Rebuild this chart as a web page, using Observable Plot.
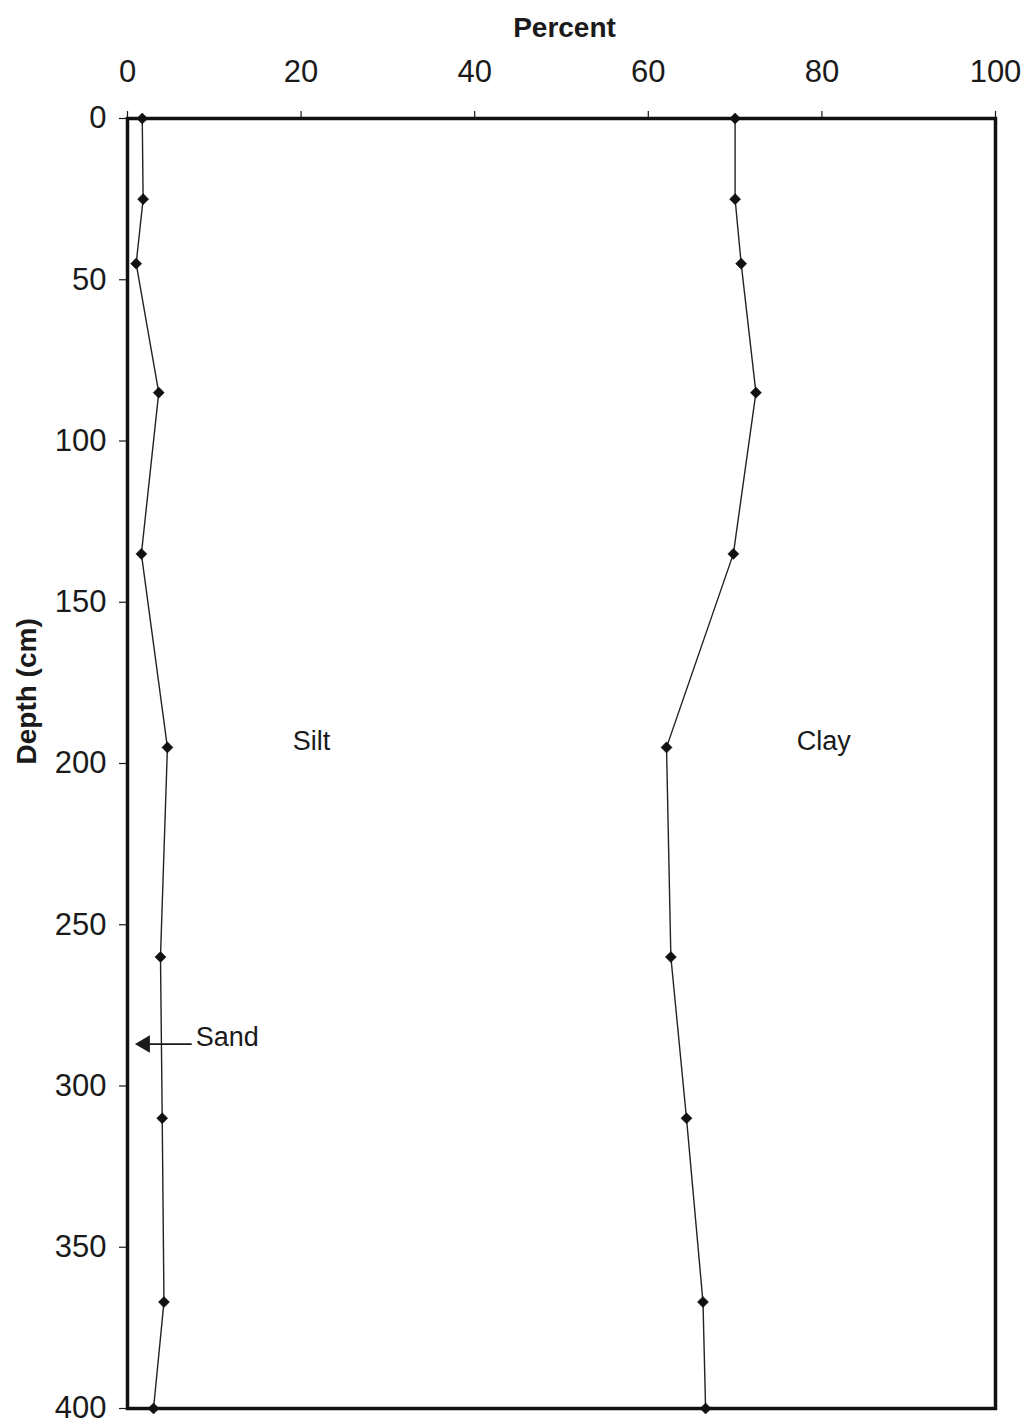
<!DOCTYPE html>
<html>
<head>
<meta charset="utf-8">
<script src="https://cdn.jsdelivr.net/npm/d3@7"></script>
<script src="https://cdn.jsdelivr.net/npm/@observablehq/plot@0.6"></script>
<style>
  html, body { margin: 0; padding: 0; background: #fff; }
  #chart svg { display: block; }
</style>
</head>
<body>
<div id="chart"></div>
<script>
// Sampled depths (cm) of the soil profile
const depth = [0, 25, 45, 85, 135, 195, 260, 310, 367, 400];
// Cumulative percentages: upper bound of sand, upper bound of sand + silt
const sandUpper = [1.7, 1.8, 1.0, 3.6, 1.6, 4.6, 3.8, 4.0, 4.2, 3.0];
const siltUpper = [70.0, 70.0, 70.7, 72.4, 69.8, 62.1, 62.6, 64.4, 66.3, 66.6];

// Axis ticks
const percentTicks = [0, 20, 40, 60, 80, 100];
const depthTicks = [0, 50, 100, 150, 200, 250, 300, 350, 400];

// Fraction names placed inside their zones (percent, depth)
const zoneNames = ["Silt", "Clay"];
const zonePercent = [21.2, 80.2];
const zoneDepth = [193, 193];

// "Sand" callout pointing at the thin sand band along the left edge
const sandName = ["Sand"];
const sandLabelPercent = [11.5];
const sandLabelDepth = [285];
const sandArrowFrom = [7.4];
const sandArrowTo = [2.0];
const sandArrowDepth = [287];

const rows = depth.map((d, i) => ({depth: d, sand: sandUpper[i], silt: siltUpper[i]}));
const zones = zoneNames.map((name, i) => ({name, x: zonePercent[i], y: zoneDepth[i]}));
const sandCallout = sandName.map((name, i) => ({
  name, x: sandLabelPercent[i], y: sandLabelDepth[i],
  x1: sandArrowFrom[i], x2: sandArrowTo[i], ya: sandArrowDepth[i]
}));

const font = "'Liberation Sans', Arial, Helvetica, sans-serif";
const ink = "#1a1a1a";

const chart = Plot.plot({
  width: 1027,
  height: 1425,
  marginTop: 118,
  marginLeft: 127,
  marginRight: 32,
  marginBottom: 17,
  style: {fontFamily: font, color: ink, background: "#fff"},
  x: {domain: [0, 100], axis: null},
  // depth increases downward
  y: {domain: [0, 400], reverse: true, axis: null},
  marks: [
    Plot.axisX(percentTicks, {
      anchor: "top", tickSize: 8, tickPadding: 29, fontSize: 31, label: null, stroke: ink, strokeWidth: 1.2
    }),
    Plot.axisY(depthTicks, {
      anchor: "left", tickSize: 8, tickPadding: 13, fontSize: 31, label: null, stroke: ink, strokeWidth: 1.2
    }),
    Plot.text(["Percent"], {
      frameAnchor: "top", lineAnchor: "bottom", dy: -82, dx: 3,
      fontSize: 28, fontWeight: "bold", fill: ink
    }),
    Plot.text(["Depth (cm)"], {
      frameAnchor: "left", rotate: -90, dx: -100, dy: 1,
      fontSize: 28, fontWeight: "bold", fill: ink
    }),
    Plot.line(rows, {x: "sand", y: "depth", stroke: "#222", strokeWidth: 1.4}),
    Plot.line(rows, {x: "silt", y: "depth", stroke: "#222", strokeWidth: 1.4}),
    Plot.dot(rows, {x: "sand", y: "depth", symbol: "diamond2", r: 5, fill: "#111", stroke: "#111", strokeWidth: 0.5}),
    Plot.dot(rows, {x: "silt", y: "depth", symbol: "diamond2", r: 5, fill: "#111", stroke: "#111", strokeWidth: 0.5}),
    Plot.text(zones, {x: "x", y: "y", text: "name", fontSize: 27, fill: ink}),
    Plot.text(sandCallout, {x: "x", y: "y", text: "name", fontSize: 27, fill: ink}),
    Plot.link(sandCallout, {x1: "x1", x2: "x2", y1: "ya", y2: "ya", stroke: ink, strokeWidth: 1.6}),
    Plot.dot(sandCallout, {x: "x2", y: "ya", symbol: "triangle", r: 5.5, rotate: -90, fill: ink, stroke: ink}),
    Plot.frame({stroke: "#111", strokeWidth: 3.5})
  ]
});

document.getElementById("chart").appendChild(chart);
</script>
</body>
</html>
